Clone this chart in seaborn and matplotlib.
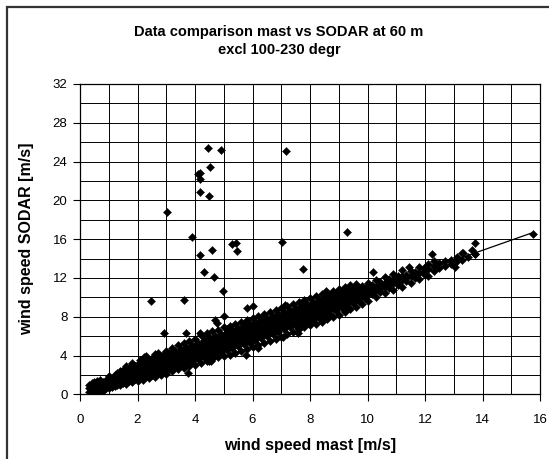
import numpy as np
import pandas as pd
import matplotlib
matplotlib.use("Agg")
import matplotlib.pyplot as plt
from matplotlib.patches import Rectangle
from matplotlib.ticker import MultipleLocator
import seaborn as sns

# ---------------- data ----------------
title = "Data comparison mast vs SODAR at 60 m\nexcl 100-230 degr"
x_label = "wind speed mast [m/s]"
y_label = "wind speed SODAR [m/s]"
x_ticks = [0, 2, 4, 6, 8, 10, 12, 14, 16]
y_ticks = [0, 4, 8, 12, 16, 20, 24, 28, 32]

# main cloud of points: mast speed of a column and the SODAR speeds seen there
band_mast = [
    0.3, 0.4, 0.5, 0.6, 0.7, 0.8, 0.9, 1.0, 1.1, 1.2, 1.3, 1.4, 1.5, 1.6, 1.7, 1.8, 1.9,
    2.0, 2.1, 2.2, 2.3, 2.4, 2.5, 2.6, 2.7, 2.8, 2.9, 3.0, 3.1, 3.2, 3.3, 3.4, 3.5, 3.6,
    3.7, 3.8, 3.9, 4.0, 4.1, 4.2, 4.3, 4.4, 4.5, 4.6, 4.7, 4.8, 4.9, 5.0, 5.1, 5.2, 5.3,
    5.4, 5.5, 5.6, 5.7, 5.8, 5.9, 6.0, 6.1, 6.2, 6.3, 6.4, 6.5, 6.6, 6.7, 6.8, 6.9, 7.0,
    7.1, 7.2, 7.3, 7.4, 7.5, 7.6, 7.7, 7.8, 7.9, 8.0, 8.1, 8.2, 8.3, 8.4, 8.5, 8.6, 8.7,
    8.8, 8.9, 9.0, 9.1, 9.2, 9.3, 9.4, 9.5, 9.6, 9.7, 9.8, 9.9, 10.0, 10.15, 10.3, 10.45,
    10.6, 10.75, 10.9, 11.05, 11.2, 11.35, 11.5, 11.65, 11.8, 11.95, 12.1, 12.3, 12.5,
    12.7, 12.9, 13.1, 13.3, 13.5, 13.75,
    13.75, 13.62, 13.33, 13.74, 13.04, 12.25, 12.33, 11.46, 10.2, 8.57, 7.74, 15.74,
    4.17, 5.12, 7.58, 2.23,
]
band_sodar = [
    [0.2, 0.6, 1.0], [0.35, 0.8, 1.2], [0.3, 0.7, 1.3], [0.45, 0.9, 1.4],
    [0.25, 0.6, 1.1, 1.5], [0.3, 0.8, 1.3], [0.6, 1.0, 1.5], [0.7, 1.1, 1.5, 1.9],
    [0.8, 1.2, 1.7], [0.9, 1.3, 1.7, 2.0], [1.0, 1.4, 1.8, 2.2], [1.0, 1.5, 1.9, 2.4],
    [1.2, 1.5, 1.9, 2.3, 2.5], [1.1, 1.6, 2.0, 2.4, 2.9], [1.4, 1.7, 2.1, 2.5, 2.7],
    [1.3, 1.8, 2.2, 2.6, 3.2], [1.6, 1.9, 2.3, 2.7, 2.9],
    [1.4, 1.9, 2.3, 2.8, 3.1], [1.7, 2.0, 2.5, 2.9, 3.5], [1.5, 2.1, 2.6, 3.0, 3.3],
    [1.9, 2.2, 2.7, 3.1, 3.9], [1.7, 2.3, 2.8, 3.2, 3.5], [2.0, 2.4, 2.9, 3.3, 3.7],
    [1.8, 2.5, 3.0, 3.4, 4.2], [2.2, 2.6, 3.1, 3.5, 3.8], [2.0, 2.7, 3.2, 3.6, 4.0],
    [2.4, 2.8, 3.3, 3.7, 4.1], [2.1, 2.9, 3.4, 3.9, 4.5], [2.6, 3.0, 3.5, 4.0, 4.3],
    [2.4, 3.1, 3.6, 4.1, 4.8], [2.8, 3.2, 3.7, 4.2, 4.5], [2.6, 3.3, 3.8, 4.3, 5.1],
    [3.0, 3.4, 3.9, 4.4, 4.7], [2.7, 3.5, 4.0, 4.5, 5.3],
    [3.2, 3.6, 4.1, 4.6, 4.9], [2.9, 3.7, 4.2, 4.7, 5.5], [3.4, 3.8, 4.3, 4.8, 5.1],
    [3.0, 3.9, 4.4, 4.9, 5.7], [3.6, 4.0, 4.5, 5.0, 5.3], [3.2, 4.1, 4.6, 5.2, 6.1],
    [3.8, 4.2, 4.7, 5.3, 5.6], [3.4, 4.3, 4.8, 5.4, 6.3], [3.9, 4.4, 4.9, 5.5, 5.9],
    [3.6, 4.5, 5.0, 5.6, 6.5], [4.2, 4.6, 5.1, 5.7, 6.0], [3.8, 4.7, 5.2, 5.8, 6.6],
    [4.4, 4.8, 5.3, 5.9, 6.2], [4.0, 4.9, 5.5, 6.0, 6.9], [4.6, 5.0, 5.6, 6.1, 6.4],
    [4.1, 5.1, 5.7, 6.2, 7.0], [4.8, 5.2, 5.8, 6.3, 6.6],
    [4.3, 5.3, 5.9, 6.4, 7.3], [5.0, 5.4, 6.0, 6.5, 6.8], [4.5, 5.5, 6.1, 6.7, 7.5],
    [5.2, 5.6, 6.2, 6.8, 7.1], [4.7, 5.7, 6.3, 6.9, 7.7], [5.3, 5.8, 6.4, 7.0, 7.2],
    [4.9, 5.9, 6.5, 7.1, 7.9], [5.6, 6.0, 6.6, 7.2, 7.5], [5.1, 6.1, 6.7, 7.3, 8.1],
    [5.8, 6.2, 6.8, 7.4, 7.7], [5.3, 6.3, 6.9, 7.5, 8.3], [6.0, 6.4, 7.0, 7.6, 7.9],
    [5.5, 6.5, 7.1, 7.7, 8.5], [6.2, 6.6, 7.2, 7.8, 8.1], [5.7, 6.7, 7.3, 7.9, 8.7],
    [6.4, 6.8, 7.4, 8.0, 8.3], [5.9, 6.9, 7.5, 8.1, 8.9],
    [6.7, 7.1, 7.7, 8.2, 8.5], [6.2, 7.2, 7.8, 8.3, 9.1], [6.9, 7.3, 7.9, 8.4, 8.7],
    [6.4, 7.4, 8.0, 8.5, 9.3], [7.1, 7.5, 8.1, 8.6, 8.9], [6.7, 7.6, 8.2, 8.7, 9.5],
    [7.3, 7.7, 8.3, 8.8, 9.1], [6.9, 7.8, 8.4, 8.9, 9.7], [7.5, 7.9, 8.5, 9.0, 9.3],
    [7.1, 8.0, 8.6, 9.1, 9.9], [7.7, 8.1, 8.7, 9.2, 9.5], [7.3, 8.2, 8.8, 9.3, 10.1],
    [7.9, 8.3, 8.9, 9.4, 9.7], [7.5, 8.4, 9.0, 9.5, 10.3], [8.1, 8.5, 9.1, 9.6, 9.9],
    [7.8, 8.7, 9.2, 9.8, 10.4], [8.3, 8.8, 9.3, 9.9, 10.1],
    [8.0, 8.9, 9.4, 10.0, 10.7], [8.6, 9.0, 9.5, 10.1, 10.3], [8.2, 9.1, 9.6, 10.2, 10.9],
    [8.9, 9.3, 9.8, 10.3, 10.6], [8.5, 9.4, 9.9, 10.4, 11.1], [9.1, 9.5, 10.0, 10.5, 10.8],
    [8.8, 9.6, 10.1, 10.6, 11.3], [9.4, 9.8, 10.2, 10.7, 11.0], [9.0, 9.9, 10.3, 10.8, 11.4],
    [9.6, 10.0, 10.4, 10.9], [9.3, 10.1, 10.6, 11.2], [9.9, 10.2, 10.7, 11.0],
    [9.6, 10.3, 10.8, 11.5], [10.3, 10.6, 11.0, 11.3], [10.0, 10.8, 11.1, 11.8],
    [10.6, 10.9, 11.3, 11.6],
    [10.4, 11.1, 11.5, 12.1], [11.0, 11.3, 11.6, 11.9], [10.8, 11.5, 11.8, 12.4],
    [11.3, 11.6, 12.0, 12.2], [11.1, 11.8, 12.2, 12.8], [11.7, 12.0, 12.3],
    [11.5, 12.2, 12.7], [12.0, 12.3, 12.6], [11.9, 12.5, 13.1], [12.4, 12.7, 13.0],
    [12.2, 12.9, 13.4], [12.7, 13.2], [13.0, 13.5],
    [13.2, 13.7], [13.4, 13.9], [13.7, 14.2], [13.9, 14.6], [14.2], [14.5],
    [15.61], [14.92], [14.61], [14.48], [13.16], [14.48], [13.71], [13.13], [12.58],
    [10.61], [9.31], [16.55],
    [6.37], [6.75], [6.8], [3.8],
]

# scattered points away from the main cloud
outlier_mast = [4.45, 4.91, 7.15, 4.52, 4.10, 4.18, 4.17, 4.17, 4.49, 3.02, 3.88, 9.30,
                4.18, 4.60, 5.30, 5.43, 5.46, 7.01, 4.32, 4.67, 4.98, 7.74, 2.48, 3.63,
                2.92, 3.69, 4.70, 4.76, 5.01, 5.80, 6.01, 7.13, 3.76, 5.76, 6.18, 4.47,
                4.56, 2.71, 7.07, 7.58]
outlier_sodar = [25.37, 25.16, 25.09, 23.47, 22.68, 22.85, 22.16, 20.90, 20.44, 18.85,
                 16.19, 16.76, 14.33, 14.92, 15.46, 15.57, 14.75, 15.68, 12.57, 12.13,
                 10.65, 12.96, 9.62, 9.68, 6.31, 6.37, 7.68, 7.34, 8.10, 8.89, 9.06,
                 9.16, 2.23, 4.06, 4.82, 3.47, 3.47, 4.30, 5.89, 6.34]

# ---------------- tables ----------------
band_df = pd.DataFrame(
    [(m, s) for m, col in zip(band_mast, band_sodar) for s in col],
    columns=["mast", "sodar"],
)
out_df = pd.DataFrame({"mast": outlier_mast, "sodar": outlier_sodar})
all_df = pd.concat([band_df, out_df], ignore_index=True)

# ---------------- figure ----------------
sns.set_theme(style="white")
plt.rcParams["font.family"] = ["Liberation Sans", "DejaVu Sans"]

W, H = 549, 459
fig = plt.figure(figsize=(W / 100, H / 100), dpi=100)
fig.patch.set_facecolor("white")
L, R, T, B = 80, 540, 84, 394.3
ax = fig.add_axes([L / W, 1 - B / H, (R - L) / W, (B - T) / H])

sns.scatterplot(data=all_df, x="mast", y="sodar", ax=ax, marker="D", s=17,
                color="black", edgecolor="black", linewidth=0.3, zorder=3)
sns.regplot(data=band_df, x="mast", y="sodar", ax=ax, scatter=False, ci=None,
            truncate=True, line_kws=dict(color="black", lw=0.9, zorder=4))

ax.set_xlim(0, 16)
ax.set_ylim(0, 32)
ax.set_xticks(x_ticks)
ax.set_yticks(y_ticks)
ax.xaxis.set_minor_locator(MultipleLocator(1))
ax.yaxis.set_minor_locator(MultipleLocator(2))
ax.grid(True, which="both", color="black", lw=0.7)
ax.set_axisbelow(True)
ax.tick_params(which="major", direction="out", length=5, width=0.8, color="black",
               labelsize=9.5, labelcolor="black", bottom=True, left=True)
ax.tick_params(axis="x", which="major", pad=9)
ax.tick_params(axis="y", which="major", pad=4)
ax.tick_params(which="minor", length=0)
for sp in ax.spines.values():
    sp.set_color("black")
    sp.set_linewidth(0.9)

ax.set_xlabel(x_label, fontsize=11.5, fontweight="bold", color="black")
ax.set_ylabel(y_label, fontsize=11.5, fontweight="bold", color="black")
ax.xaxis.set_label_coords(0.5, (B - 438) / (B - T))
ax.yaxis.set_label_coords((34 - L) / (R - L), 0.5)

fig.text(279 / W, 1 - 41 / H, title, ha="center", va="center", fontsize=10.5,
         fontweight="bold", linespacing=1.37, color="black")

fig.patches.append(Rectangle((7 / W, -0.5), 1.5, 1.5 - 7 / H, transform=fig.transFigure,
                             fill=False, ec="#333333", lw=1.6))

fig.savefig("out.png", dpi=100, facecolor="white")
